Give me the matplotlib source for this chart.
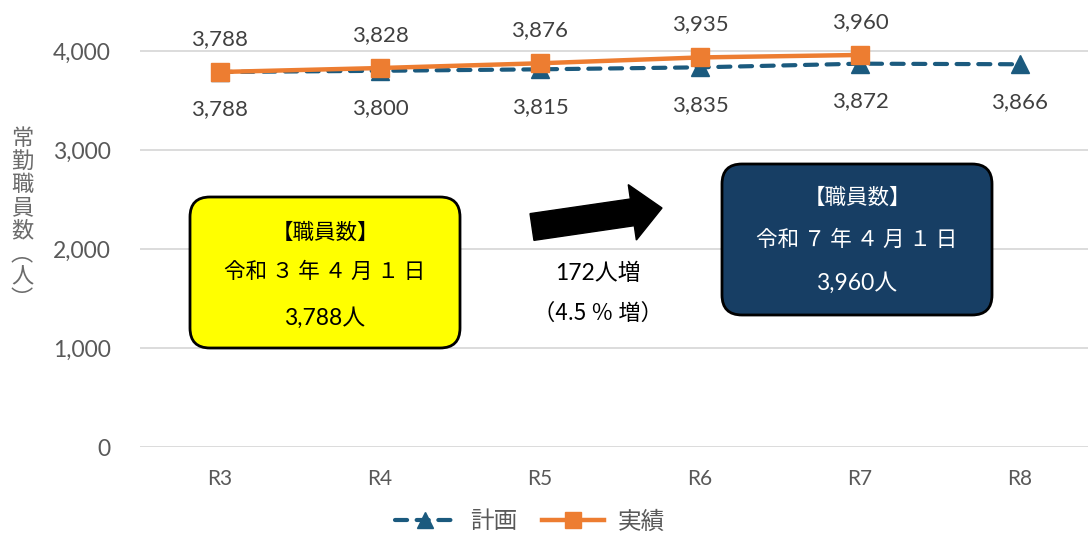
import matplotlib
matplotlib.use("Agg")
import matplotlib.pyplot as plt
from matplotlib.patches import FancyBboxPatch, FancyArrow
from matplotlib.lines import Line2D

categories = ["R3", "R4", "R5", "R6", "R7", "R8"]
plan = [3788, 3800, 3815, 3835, 3872, 3866]
actual = [3788, 3828, 3876, 3935, 3960]
yticks = [0, 1000, 2000, 3000, 4000]

FONTS = ["Lato", "Noto Sans CJK JP", "DejaVu Sans"]
JP = ["Noto Sans CJK JP", "DejaVu Sans"]
plt.rcParams["font.family"] = FONTS

W, H = 1088, 534
fig = plt.figure(figsize=(W / 100, H / 100), dpi=100)
ax = fig.add_axes([140 / W, (H - 447) / H, 960 / W, 445.5 / H])

BLUE = "#1B5A7E"
ORANGE = "#ED7D31"
GRAY = "#595959"
DASH = (0, (2.9, 2.3))

x = list(range(len(categories)))
ax.plot(x[:len(plan)], plan, color=BLUE, lw=3, ls=DASH, dash_capstyle="round",
        marker="^", ms=13, mfc=BLUE, mec=BLUE, zorder=3, clip_on=False)
ax.plot(x[:len(actual)], actual, color=ORANGE, lw=3.2, marker="s",
        ms=13, mfc=ORANGE, mec=ORANGE, zorder=4, clip_on=False)

for i, v in enumerate(plan):
    ax.annotate(f"{v:,}", (i, v), xytext=(0, -27), textcoords="offset points",
                ha="center", va="center", fontsize=16, color="#404040")
for i, v in enumerate(actual):
    ax.annotate(f"{v:,}", (i, v), xytext=(0, 24), textcoords="offset points",
                ha="center", va="center", fontsize=16, color="#404040")

ax.set_xlim(-0.5, 5.5)
ax.set_ylim(0, 4500)
ax.set_yticks(yticks)
ax.set_yticklabels([f"{t:,}" for t in yticks], fontsize=16.5, color=GRAY)
ax.set_xticks(x)
ax.set_xticklabels(categories, fontsize=15, color=GRAY)
ax.tick_params(axis="both", length=0)
ax.tick_params(axis="y", pad=21)
ax.tick_params(axis="x", pad=16)
ax.grid(axis="y", color="#D9D9D9", lw=1.3)
ax.set_axisbelow(True)
for s in ax.spines.values():
    s.set_visible(False)

# overlay in pixel coords
ov = fig.add_axes([0, 0, 1, 1], facecolor="none")
ov.set_xlim(0, W)
ov.set_ylim(H, 0)
ov.axis("off")

# y label stacked
ov.text(22, 219, "常\n勤\n職\n員\n数\n︵\n人\n︶", ha="center", va="center",
        fontsize=16, color="#6b6b6b", family=JP, linespacing=1.0)

# yellow box
ov.add_patch(FancyBboxPatch((190, 197), 270, 151, boxstyle="round,pad=0,rounding_size=20",
                            fc="#FFFF00", ec="black", lw=2, zorder=5))
ov.text(325, 233, "【職員数】", ha="center", va="center", fontsize=15.5, family=JP, zorder=6)
ov.text(325, 272, "令和 ３ 年 ４ 月 １ 日", ha="center", va="center", fontsize=15.5,
        family=JP, zorder=6)
ov.text(325, 318, "3,788人", ha="center", va="center", fontsize=16.5, zorder=6)

# dark box
ov.add_patch(FancyBboxPatch((722, 164), 270, 151, boxstyle="round,pad=0,rounding_size=20",
                            fc="#173E64", ec="black", lw=2, zorder=5))
ov.text(857, 198, "【職員数】", ha="center", va="center", fontsize=15.5, family=JP,
        color="white", zorder=6)
ov.text(857, 240, "令和 ７ 年 ４ 月 １ 日", ha="center", va="center", fontsize=15.5,
        family=JP, color="white", zorder=6)
ov.text(857, 283, "3,960人", ha="center", va="center", fontsize=16.5, color="white", zorder=6)

# arrow
ov.add_patch(FancyArrow(532, 227, 130, -19, width=27, head_width=56, head_length=30,
                        length_includes_head=True, fc="black", ec="black", zorder=5))
ov.text(598, 273, "172人増", ha="center", va="center", fontsize=16.5, zorder=6)
ov.text(598, 313, "（4.5 ％ 増）", ha="center", va="center", fontsize=16, family=JP, zorder=6)

# legend
handles = [Line2D([0], [0], color=BLUE, lw=3, ls=DASH, dash_capstyle="round",
                  marker="^", ms=12),
           Line2D([0], [0], color=ORANGE, lw=3.2, marker="s", ms=12)]
fig.legend(handles, ["計画", "実績"], loc="center", bbox_to_anchor=(530 / W, (H - 522) / H),
           ncol=2, frameon=False, labelcolor=GRAY, handlelength=2.6,
           columnspacing=1.05, handletextpad=0.6, prop={"family": JP, "size": 17})

fig.savefig("out.png", dpi=100)
